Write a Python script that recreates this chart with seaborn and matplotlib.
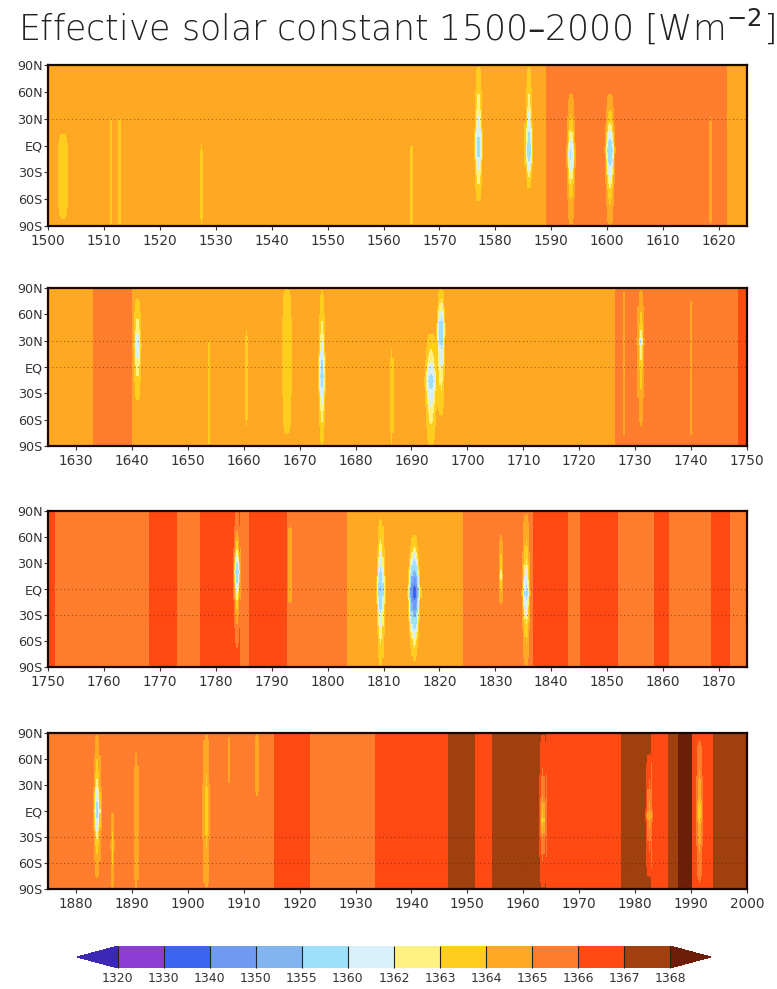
import numpy as np
import pandas as pd
import matplotlib
matplotlib.use("Agg")
import matplotlib.pyplot as plt
import seaborn as sns
from matplotlib.colors import ListedColormap, BoundaryNorm
import matplotlib.colorbar as mcolorbar

# ------------------------------------------------------------------ data
level_bounds = [1320, 1330, 1340, 1350, 1355, 1360, 1362, 1363, 1364, 1365, 1366, 1367, 1368]
level_colors = ["#8c3cd2", "#3c64f0", "#6e9bf0", "#82b4f0", "#9ee0fa", "#d7f0fa",
                "#fff082", "#ffcd1e", "#ffa823", "#ff7d2d", "#ff4a14", "#a0400f"]
under_color = "#3c28b4"
over_color = "#6e1e08"

panel_starts = [1500, 1625, 1750, 1875]
panel_span = 125

# background level of the solar constant: segment start year, value [W m-2]
bg_years = [1500, 1589, 1621.5,
            1625, 1633, 1640, 1726.5, 1748.5,
            1750, 1751.3, 1768, 1773, 1777.2, 1784.4, 1786, 1792.8, 1803.5, 1824.3,
            1836.9, 1843, 1845.3, 1852, 1858.4, 1861, 1868.6, 1872,
            1875, 1915.5, 1921.8, 1933.5, 1946.6, 1951.5, 1954.5, 1964, 1977.4,
            1982.8, 1985.8, 1987.6, 1990.3, 1994]
bg_values = [1364.5, 1365.5, 1364.5,
             1364.5, 1365.5, 1364.5, 1365.5, 1366.5,
             1366.5, 1365.5, 1366.5, 1365.5, 1366.5, 1365.5, 1366.5, 1365.5, 1364.5, 1365.5,
             1366.5, 1365.5, 1366.5, 1365.5, 1366.5, 1365.5, 1366.5, 1365.5,
             1365.5, 1366.5, 1365.5, 1366.5, 1367.5, 1366.5, 1367.5, 1366.5, 1367.5,
             1366.5, 1367.5, 1368.5, 1366.5, 1367.5]

# volcanic dimming events: year, duration scale, southern / northern extent,
# latitude of the strongest dimming, lowest value
ev_year  = [1502.7, 1511.2, 1512.8, 1527.5, 1565.0, 1577.0, 1586.0, 1593.5, 1600.5, 1618.5,
            1641.0, 1653.8, 1660.5, 1667.7, 1674.0, 1679.8, 1683.4, 1686.5, 1693.5, 1695.3,
            1705.0, 1713.0, 1728.0, 1731.0, 1740.0,
            1783.8, 1793.3, 1809.5, 1815.5, 1831.0, 1835.5,
            1883.8, 1886.5, 1890.8, 1903.3, 1907.4, 1912.4, 1929.0, 1963.5, 1968.5, 1974.7,
            1982.5, 1991.5]
ev_width = [1.0, 0.3, 0.3, 0.3, 0.28, 0.5, 0.5, 0.55, 0.6, 0.28,
            0.5, 0.3, 0.3, 0.8, 0.5, 0.28, 0.28, 0.3, 0.8, 0.5,
            0.28, 0.28, 0.3, 0.5, 0.3,
            0.5, 0.3, 0.5, 0.6, 0.35, 0.5,
            0.5, 0.35, 0.35, 0.55, 0.3, 0.35, 0.3, 0.55, 0.3, 0.3,
            0.45, 0.55]
ev_lat_s = [-85, -92, -92, -92, -92, -65, -50, -92, -92, -92,
            -40, -92, -70, -80, -92, -92, -92, -92, -92, -60,
            -92, -92, -92, -70, -92,
            -70, -20, -92, -85, -20, -92,
            -80, -92, -92, -92, 25, 15, -92, -92, -60, -60,
            -80, -85]
ev_lat_n = [15, 35, 35, 5, 5, 92, 92, 60, 60, 35,
            80, 35, 45, 92, 90, 25, 25, 25, 40, 92,
            25, 25, 92, 90, 80,
            92, 75, 85, 65, 65, 90,
            92, 0, 70, 92, 92, 92, 45, 92, 60, 60,
            70, 85]
ev_lat_c = [-30, -30, -30, -45, -45, -3, -8, -10, -5, -30,
            25, -20, -10, 20, -10, -30, -30, -30, -15, 45,
            -30, -30, 30, 30, 30,
            20, 25, 0, -3, 15, -5,
            0, -40, -20, 0, 60, 50, -20, -10, 0, 0,
            -5, 0]
ev_min = [1363.4, 1363.4, 1363.4, 1363.5, 1363.5, 1358.0, 1356.0, 1359.0, 1356.0, 1364.0,
          1360.5, 1363.4, 1363.4, 1363.0, 1357.5, 1364.0, 1364.0, 1363.6, 1358.5, 1356.0,
          1364.0, 1364.0, 1364.6, 1361.5, 1364.6,
          1356.5, 1364.0, 1354.0, 1330.0, 1362.0, 1358.5,
          1358.0, 1363.5, 1364.0, 1363.2, 1364.8, 1364.0, 1365.0, 1363.3, 1366.0, 1366.0,
          1364.0, 1363.2]

lat_ticks = [90, 60, 30, 0, -30, -60, -90]
lat_labels = ["90N", "60N", "30N", "EQ", "30S", "60S", "90S"]
dotted_lats = [[30], [30, 0], [0, -30], [-30, -60]]

title = "Effective solar constant 1500\u20132000 [Wm$^{-2}$]"

# ------------------------------------------------------------------ field
dt = 0.2
nlat = 72
years = np.arange(1500, 2000, dt) + dt / 2
lat_edges = np.linspace(90, -90, nlat + 1)
lat_c = (lat_edges[:-1] + lat_edges[1:]) / 2

bgy = np.array(bg_years)
bgv = np.array(bg_values)
bg = bgv[np.searchsorted(bgy, years, side="right") - 1]
field = np.tile(bg, (nlat, 1))
for y, w, s, n, c, vmin in zip(ev_year, ev_width, ev_lat_s, ev_lat_n, ev_lat_c, ev_min):
    base = bgv[np.searchsorted(bgy, y, side="right") - 1]
    drop = base - vmin
    fringe = min(drop, 1.4)
    g = np.exp(-((years - y) / w) ** 2)
    half = np.where(lat_c >= c, n - c, c - s)
    d = np.clip(np.abs(lat_c - c) / half, 0, 1)
    f = fringe * np.sqrt(1 - d ** 4) + (drop - fringe) * (1 - d) ** 3
    field -= np.outer(f, g)

# ------------------------------------------------------------------ style
sns.set_theme(style="white")
plt.rcParams["font.family"] = ["DejaVu Sans"]
tick_fs = 9.8

cmap = ListedColormap(level_colors)
cmap.set_under(under_color)
cmap.set_over(over_color)
norm = BoundaryNorm(level_bounds, len(level_colors))

W, H = 777, 989
fig = plt.figure(figsize=(W / 100, H / 100), dpi=100)
fig.patch.set_facecolor("white")

panel_px = [(65, 226), (288, 446), (511, 667), (733, 889)]
left_px, right_px = 48, 747
frame_col = "#1a0800"

for p, (start, (top, bot)) in enumerate(zip(panel_starts, panel_px)):
    ax = fig.add_axes([left_px / W, 1 - bot / H, (right_px - left_px) / W, (bot - top) / H])
    sel = (years >= start) & (years < start + panel_span)
    df = pd.DataFrame(field[:, sel], index=lat_c, columns=years[sel])
    sns.heatmap(df, ax=ax, cmap=cmap, norm=norm, cbar=False,
                xticklabels=False, yticklabels=False, rasterized=True)
    ncol = sel.sum()
    dec = [yy for yy in range(start, start + panel_span + 1) if yy % 10 == 0]
    ax.set_xticks([(yy - start) / dt for yy in dec])
    ax.set_xticklabels([str(yy) for yy in dec])
    ax.set_yticks([(90 - l) / (180 / nlat) for l in lat_ticks])
    ax.set_yticklabels(lat_labels)
    ax.tick_params(axis="x", length=3, width=0.8, pad=3, labelsize=tick_fs,
                   colors="#333333", bottom=True, labelrotation=0)
    ax.tick_params(axis="y", length=3, width=0.8, pad=1, labelsize=tick_fs - 0.6,
                   colors="#333333", left=True, labelrotation=0)
    ax.set_xlabel("")
    ax.set_ylabel("")
    for l in dotted_lats[p]:
        yy = (90 - l) / (180 / nlat)
        ax.axhline(yy, color="#4a1a00", lw=0.8, ls=(0, (1, 2.5)), alpha=0.5)
    for sp in ax.spines.values():
        sp.set_visible(True)
        sp.set_color(frame_col)
        sp.set_linewidth(1.6)
    ax.set_xlim(0, ncol)
    ax.set_ylim(nlat, 0)

# colorbar
cax = fig.add_axes([77 / W, 1 - 968 / H, (711 - 77) / W, 22 / H])
cb = mcolorbar.ColorbarBase(cax, cmap=cmap, norm=norm, orientation="horizontal",
                            extend="both", extendfrac=0.074, spacing="uniform",
                            ticks=level_bounds, drawedges=True)
cb.dividers.set_color("#222222")
cb.dividers.set_linewidth(0.8)
cb.outline.set_linewidth(0.0)
cax.tick_params(length=0, pad=3, labelsize=tick_fs - 0.8, colors="#333333")
cax.set_xticklabels([str(b) for b in level_bounds])

# title, scaled to span the width of the reference
t = fig.text(396 / W, 1 - 27 / H, title, ha="center", va="center",
             fontsize=26, color="#222222", fontweight="light")
fig.canvas.draw()
bb = t.get_window_extent()
t.set_fontsize(26 * 757 / bb.width)

fig.savefig("out.png", dpi=100, facecolor="white")
